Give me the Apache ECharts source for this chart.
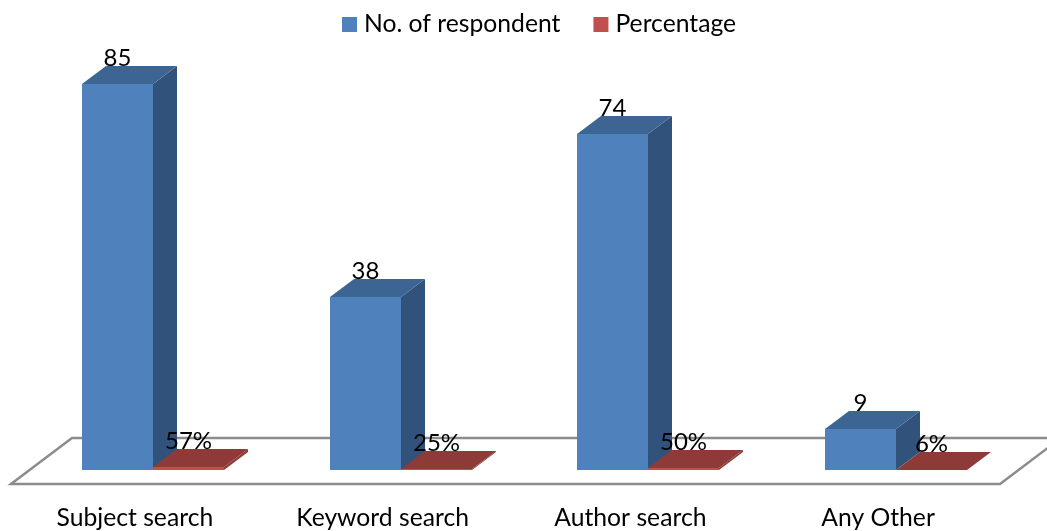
<!DOCTYPE html>
<html>
<head>
<meta charset="utf-8">
<style>html,body{margin:0;padding:0;background:#fff}#c{width:1047px;height:531px}</style>
<script src="https://cdn.jsdelivr.net/npm/echarts@6/dist/echarts.min.js"></script>
</head>
<body>
<div id="c"></div>
<script>
const categories = ['Subject search', 'Keyword search', 'Author search', 'Any Other'];
const respondents = [85, 38, 74, 9];
const percentages = [0.57, 0.25, 0.50, 0.06];
const respondentLabels = ['85', '38', '74', '9'];
const percentLabels = ['57%', '25%', '50%', '6%'];

const FONT = 'Lato';
const DX = 24, DY = -18, BAR_W = 71;

function box(x0, top, bottom, colors, text) {
  const x1 = x0 + BAR_W;
  return {
    type: 'group',
    children: [
      { type: 'polygon', shape: { points: [[x1, bottom], [x1 + DX, bottom + DY], [x1 + DX, top + DY], [x1, top]] }, style: { fill: colors.side } },
      { type: 'polygon', shape: { points: [[x0, top], [x1, top], [x1 + DX, top + DY], [x0 + DX, top + DY]] }, style: { fill: colors.top } },
      { type: 'rect', shape: { x: x0, y: top, width: BAR_W, height: bottom - top }, style: { fill: colors.front } },
      { type: 'text', z2: 50, style: { text, x: (x0 + x1) / 2, y: top - 26, align: 'center', verticalAlign: 'middle', font: '24px ' + FONT, fill: '#000' } }
    ]
  };
}

function makeRender(offset, colors, labels) {
  return function (params, api) {
    const c = api.coord([api.value(0), api.value(1)]);
    const b = api.coord([api.value(0), 0]);
    return box(Math.round(b[0] + offset), Math.round(c[1]), Math.round(b[1]), colors, labels[params.dataIndex]);
  };
}

const renderFloor = function (params) {
  const g = params.coordSys;
  const front = g.y + g.height + 14, back = g.y + g.height - 32;
  return {
    type: 'polygon',
    shape: { points: [[g.x, front], [g.x + g.width - 2, front], [g.x + g.width + 59, back], [g.x + 61, back]] },
    style: { fill: '#fff', stroke: '#8c8c8c', lineWidth: 2.5 }
  };
};

const chart = echarts.init(document.getElementById('c'), null, { renderer: 'canvas' });
chart.setOption({
  animation: false,
  backgroundColor: '#fff',
  grid: { left: 11, width: 991, top: 16, height: 454 },
  legend: {
    left: 342, top: 12, padding: 0, itemWidth: 15, itemHeight: 15, itemGap: 33, icon: 'rect',
    data: ['No. of respondent', 'Percentage'],
    textStyle: { fontFamily: FONT, fontSize: 24.7, color: '#000', padding: [0, 0, 0, 2] }
  },
  xAxis: {
    type: 'category', data: categories,
    axisLine: { show: false }, axisTick: { show: false }, splitLine: { show: false },
    axisLabel: { margin: 36, fontFamily: FONT, fontSize: 24.7, color: '#000', interval: 0 }
  },
  yAxis: { type: 'value', min: 0, max: 100, show: false },
  series: [
    { type: 'custom', silent: true, z: 1, data: [[0, 0]], renderItem: renderFloor, encode: { x: 0, y: 1 } },
    {
      type: 'custom', name: 'No. of respondent', z: 2, itemStyle: { color: '#4F81BD' },
      data: categories.map((c, i) => [i, respondents[i]]), encode: { x: 0, y: 1 },
      renderItem: makeRender(-53, { front: '#4F81BD', top: '#3D6594', side: '#31527B' }, respondentLabels)
    },
    {
      type: 'custom', name: 'Percentage', z: 3, itemStyle: { color: '#C0504D' },
      data: categories.map((c, i) => [i, percentages[i]]), encode: { x: 0, y: 1 },
      renderItem: makeRender(18, { front: '#C0504D', top: '#8E3A38', side: '#8E3A38' }, percentLabels)
    }
  ]
});
</script>
</body>
</html>
